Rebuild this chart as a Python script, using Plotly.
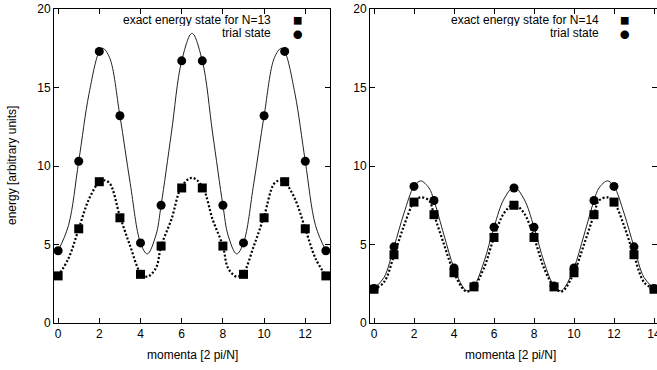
import plotly.graph_objects as go

# ---------------- data ----------------
x13 = list(range(14))
exact13 = [3.0, 6.0, 9.0, 6.7, 3.1, 4.9, 8.6, 8.6, 4.9, 3.1, 6.7, 9.0, 6.0, 3.0]
trial13 = [4.6, 10.3, 17.3, 13.2, 5.1, 7.5, 16.7, 16.7, 7.5, 5.1, 13.2, 17.3, 10.3, 4.6]

curve13_x = [0, 0.5, 1, 1.5, 2, 2.17, 2.5, 3, 3.5, 4, 4.33, 4.75, 5, 5.5, 6, 6.5,
             7, 7.5, 8, 8.25, 8.67, 9, 9.5, 10, 10.5, 10.83, 11, 11.5, 12, 12.5, 13]
solid13 = [4.6, 6.2, 10.3, 14.6, 17.3, 17.5, 16.9, 13.2, 8.9, 5.1, 4.4, 5.6, 7.5, 12.1, 16.7, 18.45,
           16.7, 12.1, 7.5, 5.6, 4.4, 5.1, 8.9, 13.2, 16.9, 17.5, 17.3, 14.6, 10.3, 6.2, 4.6]
dotted13 = [3.0, 4.1, 6.0, 7.9, 9.0, 9.1, 8.9, 6.8, 4.9, 3.2, 2.95, 3.5, 4.9, 6.6, 8.7, 9.25,
            8.7, 6.6, 4.9, 3.5, 2.95, 3.2, 4.9, 6.8, 8.9, 9.1, 9.0, 7.9, 6.0, 4.1, 3.0]

x14 = list(range(15))
exact14 = [2.15, 4.35, 7.7, 6.9, 3.2, 2.3, 5.45, 7.5, 5.45, 2.3, 3.2, 6.9, 7.7, 4.35, 2.15]
trial14 = [2.2, 4.85, 8.7, 7.8, 3.5, 2.35, 6.1, 8.6, 6.1, 2.35, 3.5, 7.8, 8.7, 4.85, 2.2]

curve14_x = [0, 0.5, 1, 1.5, 2, 2.33, 2.75, 3, 3.5, 4, 4.5, 4.67, 5, 5.5, 6, 6.5, 7,
             7.5, 8, 8.5, 9, 9.33, 9.5, 10, 10.5, 11, 11.25, 11.67, 12, 12.5, 13, 13.5, 14]
solid14 = [2.2, 2.9, 4.85, 7.0, 8.7, 9.05, 8.6, 7.8, 5.6, 3.5, 2.2, 2.05, 2.35, 3.9, 6.1, 7.9, 8.65,
           7.9, 6.1, 3.9, 2.35, 2.05, 2.2, 3.5, 5.6, 7.8, 8.6, 9.05, 8.7, 7.0, 4.85, 2.9, 2.2]
dotted14 = [2.15, 2.6, 4.3, 6.2, 7.7, 8.0, 7.8, 6.9, 5.0, 3.2, 2.1, 2.0, 2.3, 3.5, 5.45, 7.0, 7.55,
            7.0, 5.45, 3.5, 2.3, 2.0, 2.1, 3.2, 5.0, 6.9, 7.8, 8.0, 7.7, 6.2, 4.3, 2.6, 2.15]

y_ticks = [0, 5, 10, 15, 20]
x13_ticks = [0, 2, 4, 6, 8, 10, 12]
x14_ticks = [0, 2, 4, 6, 8, 10, 12, 14]
legend13 = ["exact energy state for N=13", "trial state"]
legend14 = ["exact energy state for N=14", "trial state"]
legend_symbols = ["■", "●"]
xtitle = "momenta [2 pi/N]"
ytitle = "energy [arbitrary units]"

# ---------------- figure ----------------
W, H = 657, 370
FONT = "Liberation Sans, Arial, Helvetica, sans-serif"

def px(x):
    return x / W

def py(y):
    return 1 - y / H

fig = go.Figure()

def add_panel(xa, ya, cx, solid, dotted, x, exact, trial):
    fig.add_trace(go.Scatter(x=cx, y=solid, mode="lines", xaxis=xa, yaxis=ya,
                             line=dict(color="#222", width=1, shape="spline", smoothing=1),
                             showlegend=False, hoverinfo="skip"))
    fig.add_trace(go.Scatter(x=cx, y=dotted, mode="lines", xaxis=xa, yaxis=ya,
                             line=dict(color="black", width=2.2, dash="2px,2px", shape="spline", smoothing=1),
                             showlegend=False, hoverinfo="skip"))
    fig.add_trace(go.Scatter(x=x, y=exact, mode="markers", xaxis=xa, yaxis=ya,
                             marker=dict(symbol="square", size=9, color="black"),
                             showlegend=False))
    fig.add_trace(go.Scatter(x=x, y=trial, mode="markers", xaxis=xa, yaxis=ya,
                             marker=dict(symbol="circle", size=9, color="black"),
                             showlegend=False))

add_panel("x", "y", curve13_x, solid13, dotted13, x13, exact13, trial13)
add_panel("x2", "y2", curve14_x, solid14, dotted14, x14, exact14, trial14)

ydom = [py(323), py(9)]
axis_common = dict(showgrid=False, zeroline=False, showline=True, linecolor="black", linewidth=1,
                   mirror="allticks", ticks="inside", ticklen=5, tickcolor="black", tickwidth=1,
                   automargin=False,
                   tickfont=dict(family=FONT, size=12, color="black"))

fig.update_layout(
    width=W, height=H,
    margin=dict(l=0, r=0, t=0, b=0, pad=0, autoexpand=False),
    paper_bgcolor="white", plot_bgcolor="white",
    showlegend=False,
    xaxis=dict(domain=[px(54), px(330)], range=[-0.2, 13.2], tickvals=x13_ticks, anchor="y", **axis_common),
    yaxis=dict(domain=ydom, range=[0, 20], tickvals=y_ticks, anchor="x", **axis_common),
    xaxis2=dict(domain=[px(370), 1.0], range=[-0.2, 14.15], tickvals=x14_ticks, anchor="y2",
                ticklabeloverflow="allow", **axis_common),
    yaxis2=dict(domain=ydom, range=[0, 20], tickvals=y_ticks, anchor="x2", **axis_common),
)

ann = []
tf = dict(family=FONT, size=12, color="black")
# axis titles
ann.append(dict(text=ytitle, x=px(12), y=py(166), xref="paper", yref="paper", textangle=-90,
                showarrow=False, font=tf, xanchor="center", yanchor="middle"))
ann.append(dict(text=xtitle, x=px(192), y=py(355), xref="paper", yref="paper",
                showarrow=False, font=tf, xanchor="center", yanchor="middle"))
ann.append(dict(text=xtitle, x=px(510), y=py(355), xref="paper", yref="paper",
                showarrow=False, font=tf, xanchor="center", yanchor="middle"))
# legends
for (tx, sx, labels) in [(273, 298, legend13), (601, 625, legend14)]:
    for i, (lab, sym) in enumerate(zip(labels, legend_symbols)):
        yy = 20 + 13 * i
        ann.append(dict(text=lab, x=px(tx), y=py(yy), xref="paper", yref="paper",
                        showarrow=False, font=tf, xanchor="right", yanchor="middle", height=12))
        ann.append(dict(text=sym, x=px(sx), y=py(yy - 0.5 + i), xref="paper", yref="paper",
                        showarrow=False, font=dict(family="Noto Sans CJK SC", size=9.5, color="black"),
                        xanchor="center", yanchor="middle", height=11))
fig.update_layout(annotations=ann)

fig.write_html("out.html", config={"displayModeBar": False},
               post_script="document.body.style.margin='0';document.body.style.padding='0';")
